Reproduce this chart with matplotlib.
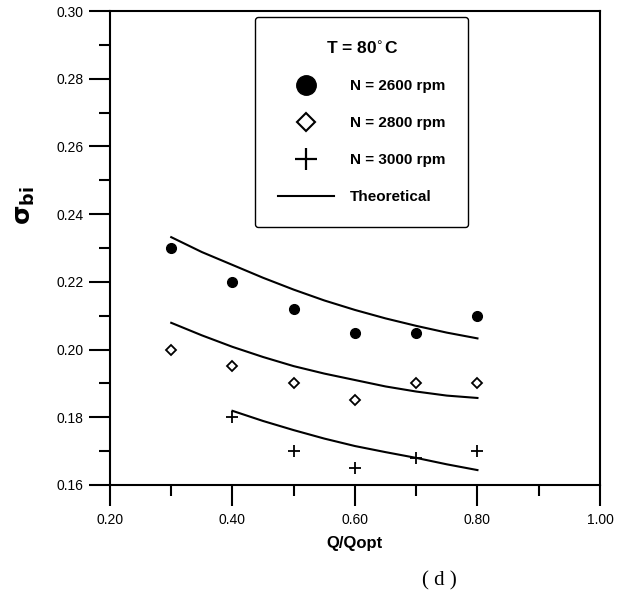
import matplotlib
matplotlib.use("Agg")
import matplotlib.pyplot as plt
from matplotlib.lines import Line2D
from matplotlib.ticker import MultipleLocator, FormatStrFormatter

plt.rcParams["font.family"] = ["Liberation Sans", "DejaVu Sans"]

# measured points
q_2600 = [0.3, 0.4, 0.5, 0.6, 0.7, 0.8]
s_2600 = [0.230, 0.220, 0.212, 0.205, 0.205, 0.210]
q_2800 = [0.3, 0.4, 0.5, 0.6, 0.7, 0.8]
s_2800 = [0.200, 0.195, 0.190, 0.185, 0.190, 0.190]
q_3000 = [0.4, 0.5, 0.6, 0.7, 0.8]
s_3000 = [0.180, 0.170, 0.165, 0.168, 0.170]

# theoretical curves
qt_a = [0.30, 0.35, 0.40, 0.45, 0.50, 0.55, 0.60, 0.65, 0.70, 0.75, 0.80]
st_2600 = [0.2332, 0.2288, 0.2250, 0.2212, 0.2177, 0.2145, 0.2117, 0.2092, 0.2070, 0.2050, 0.2033]
st_2800 = [0.2079, 0.2042, 0.2008, 0.1978, 0.1951, 0.1929, 0.1910, 0.1891, 0.1876, 0.1864, 0.1857]
qt_b = [0.40, 0.45, 0.50, 0.55, 0.60, 0.65, 0.70, 0.75, 0.80]
st_3000 = [0.1819, 0.1789, 0.1762, 0.1737, 0.1715, 0.1697, 0.1680, 0.1661, 0.1644]

fig = plt.figure(figsize=(6.42, 5.98), dpi=100)
ax = fig.add_axes([0.1713, 0.189, 0.7632, 0.7926])

ax.plot(qt_a, st_2600, color="black", lw=1.5)
ax.plot(qt_a, st_2800, color="black", lw=1.5)
ax.plot(qt_b, st_3000, color="black", lw=1.5)

ax.plot(q_2600, s_2600, "o", color="black", ms=7, ls="none")
ax.plot(q_2800, s_2800, "D", mfc="white", mec="black", mew=1.3, ms=5.5, ls="none")
ax.plot(q_3000, s_3000, "+", color="black", mew=1.3, ms=8, ls="none")

ax.set_xlim(0.2, 1.0)
ax.set_ylim(0.16, 0.30)
ax.xaxis.set_major_locator(MultipleLocator(0.2))
ax.xaxis.set_minor_locator(MultipleLocator(0.1))
ax.yaxis.set_major_locator(MultipleLocator(0.02))
ax.yaxis.set_minor_locator(MultipleLocator(0.01))
ax.xaxis.set_major_formatter(FormatStrFormatter("%.2f"))
ax.yaxis.set_major_formatter(FormatStrFormatter("%.2f"))
ax.tick_params(which="both", direction="out", width=1.5, labelsize=10, top=False, right=False)
ax.tick_params(which="major", length=15, pad=4)
ax.tick_params(which="minor", length=8)
ax.tick_params(axis="x", which="major", pad=5)
for sp in ax.spines.values():
    sp.set_linewidth(1.5)

ax.set_xlabel("Q/Qopt", fontsize=12, fontweight="bold", labelpad=7)
ax.set_ylabel(r"$\mathbf{\sigma}_{\mathbf{bi}}$", fontsize=18)
ax.yaxis.set_label_coords(-0.149, 0.59)

handles = [
    Line2D([], [], marker="o", color="black", ls="none", ms=14),
    Line2D([], [], marker="D", mfc="white", mec="black", mew=1.5, ls="none", ms=9.5),
    Line2D([], [], marker="+", color="black", mew=1.6, ls="none", ms=16),
    Line2D([], [], color="black", lw=1.5),
]
labels = ["N = 2600 rpm", "N = 2800 rpm", "N = 3000 rpm", "Theoretical"]
leg = ax.legend(handles, labels, title=r"T = 80$^{\circ}$C", loc="upper left",
                bbox_to_anchor=(0.296, 0.987), frameon=True, fancybox=True,
                edgecolor="black", framealpha=1, prop={"weight": "bold", "size": 11},
                title_fontproperties={"weight": "bold", "size": 12.5},
                handlelength=3.7, handletextpad=1.0, labelspacing=1.5,
                borderpad=1.5, borderaxespad=0)
leg.get_frame().set_linewidth(1.0)
leg._legend_box.sep = 16

fig.text(0.685, 0.012, "( d )", fontsize=15, family=["Liberation Serif", "DejaVu Serif"],
         ha="center", va="bottom")

fig.savefig("out.png", dpi=100)
